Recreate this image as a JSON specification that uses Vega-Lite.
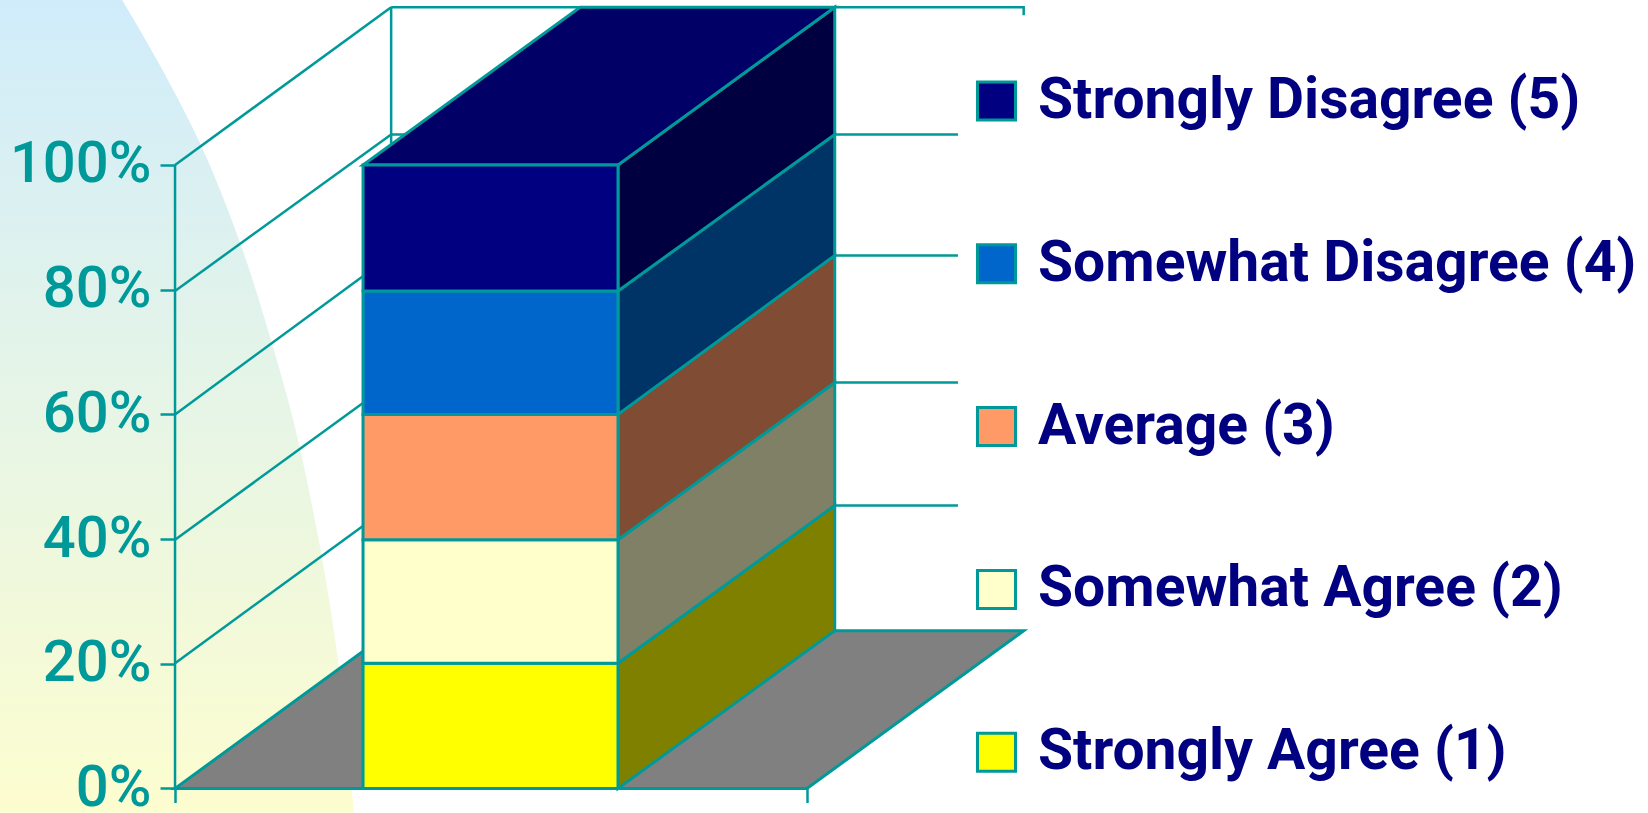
{
  "$schema": "https://vega.github.io/schema/vega-lite/v6.json",
  "width": 1648,
  "height": 813,
  "padding": 0,
  "autosize": {"type": "none"},
  "background": "white",
  "view": {"stroke": null},
  "datasets": {
    "backdrop": [
      {"edge": -27.7, "curve": -8.4, "level": 126.5},
      {"edge": -27.7, "curve": -2.4, "level": 116},
      {"edge": -27.7, "curve": 3.96, "level": 103.5},
      {"edge": -27.7, "curve": 10.3, "level": 87.5},
      {"edge": -27.7, "curve": 15.5, "level": 70.8},
      {"edge": -27.7, "curve": 18.7, "level": 59.1},
      {"edge": -27.7, "curve": 21.5, "level": 46.3},
      {"edge": -27.7, "curve": 25.8, "level": 20.6},
      {"edge": -27.7, "curve": 28.3, "level": -3.9}
    ],
    "gridlines": [
      {"line": "side 20", "across": 0, "level": 20.1},
      {"line": "side 20", "across": 34.2, "level": 45.4},
      {"line": "side 40", "across": 0, "level": 39.9},
      {"line": "side 40", "across": 34.2, "level": 65.1},
      {"line": "side 60", "across": 0, "level": 60},
      {"line": "side 60", "across": 34.2, "level": 85.5},
      {"line": "side 80", "across": 0, "level": 79.8},
      {"line": "side 80", "across": 34.2, "level": 104.9},
      {"line": "side 100", "across": 0, "level": 100},
      {"line": "side 100", "across": 34.2, "level": 125.3},
      {"line": "wall 20", "across": 34.2, "level": 45.4},
      {"line": "wall 20", "across": 123.9, "level": 45.4},
      {"line": "wall 40", "across": 34.2, "level": 65.1},
      {"line": "wall 40", "across": 123.9, "level": 65.1},
      {"line": "wall 60", "across": 34.2, "level": 85.5},
      {"line": "wall 60", "across": 123.9, "level": 85.5},
      {"line": "wall 80", "across": 34.2, "level": 104.9},
      {"line": "wall 80", "across": 123.9, "level": 104.9},
      {"line": "wall 100", "across": 34.2, "level": 125.3},
      {"line": "wall 100", "across": 134.3, "level": 125.3},
      {"line": "wall 100", "across": 134.3, "level": 124},
      {"line": "wall left", "across": 34.2, "level": 125.3},
      {"line": "wall left", "across": 34.2, "level": 25.3},
      {"line": "axis", "across": 0, "level": 100},
      {"line": "axis", "across": 0, "level": 0}
    ],
    "floor": [
      {"across": 0, "near": 0, "far": 0},
      {"across": 34.2, "near": 0, "far": 25.3},
      {"across": 100, "near": 0, "far": 25.3},
      {"across": 134.3, "near": 25.3, "far": 25.3}
    ],
    "sideFaces": [
      {"series": "Strongly Agree (1)", "across": 70.1, "near": 0, "far": 20.1},
      {"series": "Strongly Agree (1)", "across": 104.4, "near": 25.3, "far": 45.4},
      {"series": "Somewhat Agree (2)", "across": 70.1, "near": 20.1, "far": 39.9},
      {"series": "Somewhat Agree (2)", "across": 104.4, "near": 45.4, "far": 65.1},
      {"series": "Average (3)", "across": 70.1, "near": 39.9, "far": 60},
      {"series": "Average (3)", "across": 104.4, "near": 65.1, "far": 85.5},
      {"series": "Somewhat Disagree (4)", "across": 70.1, "near": 60, "far": 79.8},
      {"series": "Somewhat Disagree (4)", "across": 104.4, "near": 85.5, "far": 104.9},
      {"series": "Strongly Disagree (5)", "across": 70.1, "near": 79.8, "far": 100},
      {"series": "Strongly Disagree (5)", "across": 104.4, "near": 104.9, "far": 125.3}
    ],
    "topFace": [
      {"across": 29.75, "near": 100, "far": 100},
      {"across": 64.1, "near": 100, "far": 125.3},
      {"across": 70.1, "near": 100, "far": 125.3},
      {"across": 104.4, "near": 125.3, "far": 125.3}
    ],
    "responses": [
      {"series": "Strongly Agree (1)", "rank": 1, "share": 20.1},
      {"series": "Somewhat Agree (2)", "rank": 2, "share": 19.8},
      {"series": "Average (3)", "rank": 3, "share": 20.1},
      {"series": "Somewhat Disagree (4)", "rank": 4, "share": 19.8},
      {"series": "Strongly Disagree (5)", "rank": 5, "share": 20.2}
    ]
  },
  "layer": [
    {
      "data": {"name": "backdrop"},
      "mark": {
        "type": "area",
        "orient": "horizontal",
        "interpolate": "monotone",
        "fill": {
          "gradient": "linear",
          "x1": 0, "y1": 0, "x2": 0, "y2": 1,
          "stops": [
            {"offset": 0, "color": "#d0ecfb"},
            {"offset": 0.5, "color": "#e6f5e6"},
            {"offset": 1, "color": "#fdfdcf"}
          ]
        }
      },
      "encoding": {
        "y": {
          "field": "level",
          "type": "quantitative",
          "scale": {"domain": [-3.93, 126.46], "nice": false, "zero": false},
          "axis": {
            "title": null,
            "orient": "left",
            "offset": -175,
            "values": [0, 20, 40, 60, 80, 100],
            "labelExpr": "datum.value + '%'",
            "domain": false,
            "grid": false,
            "ticks": true,
            "tickSize": 15,
            "tickWidth": 2.5,
            "tickColor": "#009999",
            "labelPadding": 9,
            "labelFont": "Roboto",
            "labelFontWeight": 500,
            "labelFontSize": 58,
            "labelColor": "#009999",
            "labelBaseline": "middle",
            "labelOverlap": false,
            "labelBound": false,
            "labelFlush": false,
            "zindex": 1
          }
        },
        "x": {
          "field": "curve",
          "type": "quantitative",
          "scale": {"domain": [-27.7, 233.1], "nice": false, "zero": false},
          "axis": {
            "title": null,
            "orient": "bottom",
            "offset": -24.5,
            "values": [0, 100],
            "labels": false,
            "domain": false,
            "grid": false,
            "ticks": true,
            "tickSize": 14,
            "tickWidth": 2.5,
            "tickColor": "#009999",
            "zindex": 1
          }
        },
        "x2": {"field": "edge"}
      }
    },
    {
      "data": {"name": "gridlines"},
      "mark": {"type": "line", "stroke": "#009999", "strokeWidth": 2.5},
      "encoding": {
        "x": {"field": "across", "type": "quantitative"},
        "y": {"field": "level", "type": "quantitative"},
        "detail": {"field": "line"},
        "order": {"field": "level", "sort": "descending"}
      }
    },
    {
      "data": {"name": "floor"},
      "mark": {"type": "area", "orient": "vertical", "fill": "#808080", "stroke": "#009999", "strokeWidth": 3},
      "encoding": {
        "x": {"field": "across", "type": "quantitative"},
        "y": {"field": "near", "type": "quantitative"},
        "y2": {"field": "far"}
      }
    },
    {
      "data": {"name": "sideFaces"},
      "mark": {"type": "area", "orient": "vertical", "stroke": "#009999", "strokeWidth": 3},
      "encoding": {
        "x": {"field": "across", "type": "quantitative"},
        "y": {"field": "near", "type": "quantitative"},
        "y2": {"field": "far"},
        "color": {
          "field": "series",
          "type": "nominal",
          "legend": null,
          "scale": {
            "domain": ["Strongly Disagree (5)", "Somewhat Disagree (4)", "Average (3)", "Somewhat Agree (2)", "Strongly Agree (1)"],
            "range": ["#000040", "#003366", "#804c33", "#808066", "#808000"]
          }
        }
      }
    },
    {
      "data": {"name": "topFace"},
      "mark": {"type": "area", "orient": "vertical", "fill": "#000066", "stroke": "#009999", "strokeWidth": 3},
      "encoding": {
        "x": {"field": "across", "type": "quantitative"},
        "y": {"field": "near", "type": "quantitative"},
        "y2": {"field": "far"}
      }
    },
    {
      "data": {"name": "responses"},
      "transform": [
        {"stack": "share", "sort": [{"field": "rank"}], "as": ["low", "high"]}
      ],
      "mark": {"type": "rect", "stroke": "#009999", "strokeWidth": 3},
      "encoding": {
        "x": {"datum": 29.75, "type": "quantitative"},
        "x2": {"datum": 70.1},
        "y": {"field": "low", "type": "quantitative"},
        "y2": {"field": "high"},
        "color": {
          "field": "series",
          "type": "nominal",
          "scale": {
            "domain": ["Strongly Disagree (5)", "Somewhat Disagree (4)", "Average (3)", "Somewhat Agree (2)", "Strongly Agree (1)"],
            "range": ["#000080", "#0066cc", "#ff9966", "#ffffcc", "#ffff00"]
          },
          "legend": {
            "title": null,
            "orient": "none",
            "legendX": 968,
            "legendY": 72.5,
            "padding": 0,
            "symbolType": "square",
            "symbolSize": 1444,
            "symbolStrokeColor": "#009999",
            "symbolStrokeWidth": 3,
            "symbolOpacity": 1,
            "labelFont": "Roboto",
            "labelFontWeight": "bold",
            "labelFontSize": 57,
            "labelColor": "#000080",
            "labelLimit": 700,
            "labelOffset": 13,
            "labelBaseline": "middle",
            "rowPadding": 104.8,
            "encoding": {"labels": {"update": {"dy": {"value": 3}}}}
          }
        }
      }
    }
  ],
  "resolve": {"scale": {"color": "independent"}}
}
